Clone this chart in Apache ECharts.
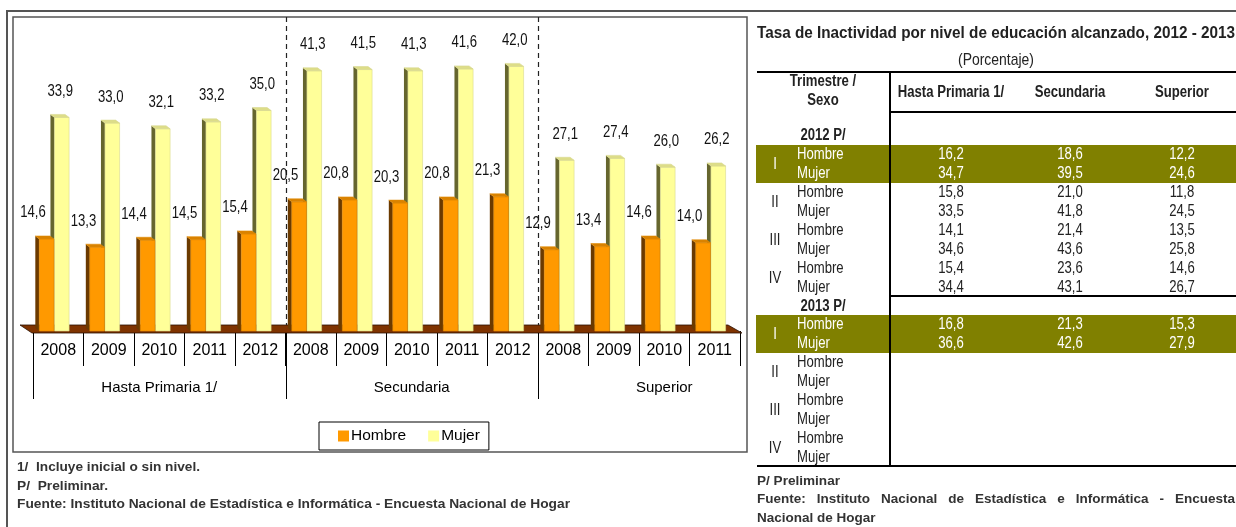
<!DOCTYPE html>
<html>
<head>
<meta charset="utf-8">
<script src="https://cdn.jsdelivr.net/npm/echarts@6/dist/echarts.min.js"></script>
<style>
  html, body { margin: 0; padding: 0; background: #fff; }
  #main { width: 1236px; height: 527px; }
</style>
</head>
<body>
<div id="main"></div>
<script>
var years = ['2008', '2009', '2010', '2011', '2012', '2008', '2009', '2010', '2011', '2012', '2008', '2009', '2010', '2011'];
var groups = ['Hasta Primaria 1/', 'Secundaria', 'Superior'];
var groupStart = [0, 5, 10];
var hombre = [14.6, 13.3, 14.4, 14.5, 15.4, 20.5, 20.8, 20.3, 20.8, 21.3, 12.9, 13.4, 14.6, 14.0];
var mujer = [33.9, 33.0, 32.1, 33.2, 35.0, 41.3, 41.5, 41.3, 41.6, 42.0, 27.1, 27.4, 26.0, 26.2];

var tableTitle = 'Tasa de Inactividad por nivel de educación alcanzado, 2012 - 2013';
var tableCols = ['Hasta Primaria 1/', 'Secundaria', 'Superior'];
var quarters = ['I', 'II', 'III', 'IV'];
var sexes = ['Hombre', 'Mujer'];
var rows2012 = [
    [16.2, 18.6, 12.2], [34.7, 39.5, 24.6],
    [15.8, 21.0, 11.8], [33.5, 41.8, 24.5],
    [14.1, 21.4, 13.5], [34.6, 43.6, 25.8],
    [15.4, 23.6, 14.6], [34.4, 43.1, 26.7]
];
var rows2013 = [
    [16.8, 21.3, 15.3], [36.6, 42.6, 27.9]
];
var notesLeft = ['1/  Incluye inicial o sin nivel.', 'P/  Preliminar.',
    'Fuente: Instituto Nacional de Estadística e Informática - Encuesta Nacional de Hogar'];

var FONT = '"Liberation Sans", Arial, sans-serif';
var NARROW = 0.82; // arial narrow look

var fmt = function (v) {
    return v.toFixed(1).replace('.', ',');
};

// 3d column drawn from the axis scales
var makeBar = function (front, side, top, edge, shift, labelShift) {
    return function (params, api) {
        var i = api.value(0),
            v = api.value(1);
        var p = api.coord([i, v]),
            b = api.coord([i, 0]);
        var band = api.size([1, 0])[0];
        var w = band * 0.29,
            d = 4,
            h = 3;
        var x1 = p[0] + shift * band - w / 2,
            x2 = x1 + w;
        return {
            type: 'group',
            children: [{
                type: 'polygon',
                shape: { points: [[x1 - d, p[1] - h], [x1, p[1]], [x1, b[1]], [x1 - d, b[1] - h]] },
                style: { fill: side }
            }, {
                type: 'rect',
                shape: { x: x1, y: p[1], width: w, height: b[1] - p[1] },
                style: { fill: front, stroke: edge, lineWidth: 0.6 }
            }, {
                type: 'polygon',
                shape: { points: [[x1 - d, p[1] - h], [x2 - d, p[1] - h], [x2, p[1]], [x1, p[1]]] },
                style: { fill: top, stroke: edge, lineWidth: 0.6 }
            }, {
                type: 'text',
                x: p[0] + labelShift * band,
                y: p[1] - 26,
                scaleX: NARROW,
                style: {
                    text: fmt(v),
                    x: 0,
                    y: 0,
                    align: 'center',
                    verticalAlign: 'middle',
                    fontSize: 16,
                    fontFamily: FONT,
                    fill: '#111'
                }
            }]
        };
    };
};

var chart = echarts.init(document.getElementById('main'));

chart.setOption({
    animation: false,
    grid: { left: 33, right: 496, top: 16, bottom: 196 },
    legend: {
        data: ['Hombre', 'Mujer'],
        left: 319,
        top: 422,
        icon: 'rect',
        itemWidth: 11,
        itemHeight: 11,
        itemGap: 22,
        padding: [6, 9, 6, 19],
        borderColor: '#000',
        borderWidth: 1,
        textStyle: { fontSize: 15.5, fontFamily: FONT, color: '#000', padding: [1, 0, 0, -3] }
    },
    xAxis: [{
        type: 'category',
        data: years,
        axisLine: { show: false },
        axisTick: { show: true, length: 35, lineStyle: { color: '#000', width: 1 } },
        axisLabel: { interval: 0, margin: 12, fontSize: 16, fontFamily: FONT, color: '#000' }
    }, {
        type: 'category',
        data: years,
        position: 'bottom',
        axisLine: { show: false },
        axisTick: { show: false },
        axisLabel: {
            interval: 0,
            margin: 49,
            fontSize: 15,
            fontFamily: FONT,
            color: '#000',
            formatter: function (v, i) {
                var k = groupStart.indexOf(i - 2);
                return k >= 0 ? groups[k] : '';
            }
        }
    }],
    yAxis: { type: 'value', min: 0, max: 50, show: false },
    series: [{
        name: 'Hombre',
        type: 'custom',
        z: 4,
        clip: false,
        itemStyle: { color: '#FF9900' },
        renderItem: makeBar('#FF9900', '#6B3A00', '#D98200', '#E08A00', -0.23, -0.5),
        encode: { x: 0, y: 1 },
        data: hombre.map(function (v, i) { return [i, v]; })
    }, {
        name: 'Mujer',
        type: 'custom',
        z: 3,
        clip: false,
        itemStyle: { color: '#FFFF99' },
        renderItem: makeBar('#FFFF99', '#66662E', '#DDDD88', '#D8D890', 0.07, 0.04),
        encode: { x: 0, y: 1 },
        data: mujer.map(function (v, i) { return [i, v]; })
    }]
});

// decorations placed from the axis
var xAt = function (i) {
    return chart.convertToPixel({ xAxisIndex: 0 }, i);
};
var band = (xAt(13) - xAt(0)) / 13;
var edge = function (i) {
    return xAt(0) + (i - 0.5) * band;
};
var y0 = chart.convertToPixel({ yAxisIndex: 0 }, 0);

var g = [];
// frames
g.push({ type: 'polyline', z: 0, shape: { points: [[7, 527], [7, 11], [1236, 11]] }, style: { stroke: '#555', lineWidth: 2, fill: null } });
g.push({ type: 'rect', z: 0, shape: { x: 13, y: 17, width: 734, height: 435 }, style: { stroke: '#555', lineWidth: 1.5, fill: null } });
// floor
g.push({
    type: 'polygon', z: 1,
    shape: { points: [[edge(0) - 13, y0 - 6], [edge(14) - 12, y0 - 6], [edge(14) + 2, y0 + 2], [edge(0) - 1, y0 + 2]] },
    style: { fill: '#7F3300', stroke: '#2a1000', lineWidth: 0.8 }
});
groupStart.forEach(function (s, k) {
    var x = Math.round(edge(s)) + 0.5;
    g.push({ type: 'line', z: 1, shape: { x1: x, y1: y0 + 2, x2: x, y2: 399 }, style: { stroke: '#000', lineWidth: 1 } });
    if (k > 0) {
        g.push({ type: 'line', z: 1, shape: { x1: x, y1: 17, x2: x, y2: y0 - 6 }, style: { stroke: '#222', lineWidth: 1.2, lineDash: [5, 4] } });
    }
});

var ctx = document.createElement('canvas').getContext('2d');
var measure = function (s, size, bold) {
    ctx.font = (bold ? 'bold ' : '') + size + 'px ' + FONT;
    return ctx.measureText(s).width;
};
// opt.width: stretch/squeeze to that width; opt.sx: horizontal scale
var txt = function (s, x, y, opt) {
    opt = opt || {};
    var size = opt.size || 16;
    var sx = opt.sx || NARROW;
    if (opt.width) sx = opt.width / measure(s, size, opt.bold);
    g.push({
        type: 'text', z: 5,
        x: x, y: y, scaleX: sx,
        style: {
            text: s, x: 0, y: 0,
            align: opt.align || 'left',
            verticalAlign: 'middle',
            fontSize: size,
            fontWeight: opt.bold ? 'bold' : 'normal',
            fontFamily: FONT,
            fill: opt.color || '#1a1a1a'
        }
    });
};
var hline = function (x1, x2, y, w) {
    g.push({ type: 'line', z: 2, shape: { x1: x1, y1: y, x2: x2, y2: y }, style: { stroke: '#000', lineWidth: w || 2 } });
};

// left notes
txt(notesLeft[0], 17, 467, { bold: true, size: 13.5, width: 183, color: '#333' });
txt(notesLeft[1], 17, 486, { bold: true, size: 13.5, width: 91, color: '#333' });
txt(notesLeft[2], 17, 504, { bold: true, size: 13.5, width: 553, color: '#333' });

// table
txt(tableTitle, 757, 33, { bold: true, size: 17, width: 478, color: '#222' });
txt('(Porcentaje)', 996, 60, { size: 17, align: 'center', color: '#222' });
hline(757, 1236, 72);
g.push({ type: 'line', z: 2, shape: { x1: 890, y1: 72, x2: 890, y2: 466 }, style: { stroke: '#000', lineWidth: 2 } });
hline(890, 1236, 112);
hline(890, 1236, 296);
hline(757, 1236, 466);
g.push({ type: 'rect', z: 1, shape: { x: 756, y: 145, width: 480, height: 38 }, style: { fill: '#808000' } });
g.push({ type: 'rect', z: 1, shape: { x: 756, y: 315, width: 480, height: 38 }, style: { fill: '#808000' } });

var colX = [951, 1070, 1182];
txt('Trimestre /', 823, 82, { bold: true, size: 16, align: 'center', color: '#222' });
txt('Sexo', 823, 101, { bold: true, size: 16, align: 'center', color: '#222' });
tableCols.forEach(function (c, j) {
    txt(c, colX[j], 93, { bold: true, size: 16, align: 'center', color: '#222' });
});

var drawBlock = function (label, yLabel, yFirst, rows) {
    txt(label, 823, yLabel, { bold: true, size: 16, align: 'center', color: '#222' });
    quarters.forEach(function (q, qi) {
        var hi = qi === 0;
        var col = hi ? '#fff' : '#222';
        var yq = yFirst + qi * 38;
        txt(q, 775, yq + 9.5, { size: 16, align: 'center', color: col });
        sexes.forEach(function (s, si) {
            var y = yq + si * 19;
            txt(s, 797, y, { size: 16, color: col });
            var r = rows[qi * 2 + si];
            if (r) {
                r.forEach(function (v, j) {
                    txt(fmt(v), colX[j], y, { size: 16, align: 'center', color: col });
                });
            }
        });
    });
};
drawBlock('2012 P/', 136, 155, rows2012);
drawBlock('2013 P/', 307, 325, rows2013);

// right notes, justified line
txt('P/ Preliminar', 757, 481, { bold: true, size: 13.5, width: 83, color: '#333' });
var justify = function (s, x1, x2, y, size) {
    var words = s.split(' ');
    var total = 0;
    words.forEach(function (w) { total += measure(w, size, true); });
    var gap = (x2 - x1 - total) / (words.length - 1);
    var x = x1;
    words.forEach(function (w) {
        txt(w, x, y, { bold: true, size: size, sx: 1, color: '#333' });
        x += measure(w, size, true) + gap;
    });
};
justify('Fuente: Instituto Nacional de Estadística e Informática - Encuesta', 757, 1235, 499, 13.5);
txt('Nacional de Hogar', 757, 518, { bold: true, size: 13.5, sx: 1, color: '#333' });

chart.setOption({ graphic: { elements: g } });
</script>
</body>
</html>
